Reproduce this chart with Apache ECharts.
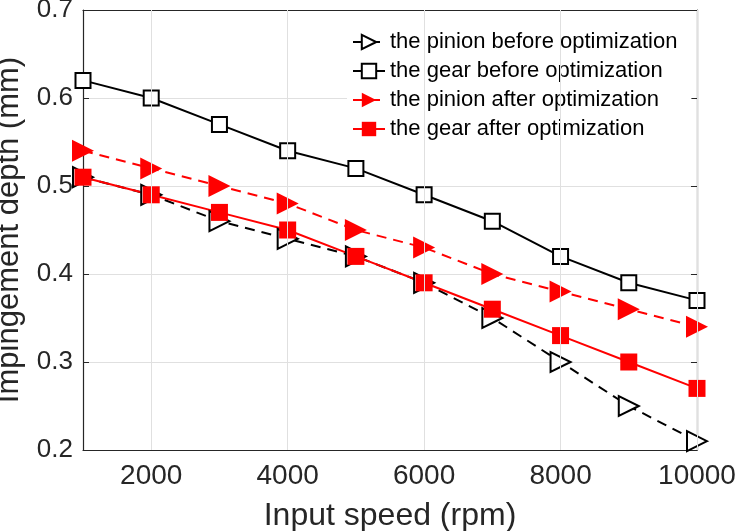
<!DOCTYPE html>
<html>
<head>
<meta charset="utf-8">
<script src="https://cdn.jsdelivr.net/npm/echarts@6/dist/echarts.min.js"></script>
<style>
  html, body { margin: 0; padding: 0; background: #fff; }
  #chart { width: 737px; height: 531px; }
</style>
</head>
<body>
<div id="chart"></div>
<script>
  const speeds = [1000, 2000, 3000, 4000, 5000, 6000, 7000, 8000, 9000, 10000];
  const pinionBefore = [0.51, 0.49, 0.46, 0.44, 0.42, 0.39, 0.35, 0.30, 0.25, 0.21];
  const gearBefore = [0.62, 0.60, 0.57, 0.54, 0.52, 0.49, 0.46, 0.42, 0.39, 0.37];
  const pinionAfter = [0.54, 0.52, 0.50, 0.48, 0.45, 0.43, 0.40, 0.38, 0.36, 0.34];
  const gearAfter = [0.51, 0.49, 0.47, 0.45, 0.42, 0.39, 0.36, 0.33, 0.30, 0.27];
  const xTicks = [2000, 4000, 6000, 8000, 10000];

  const font = 'Liberation Sans, Arial, sans-serif';
  const axisColor = '#262626';
  const gridColor = '#e0e0e0';
  const pairs = arr => arr.map((v, i) => [speeds[i], v]);

  const chart = echarts.init(document.getElementById('chart'));

  const baseX = {
    type: 'value',
    min: 1000,
    max: 10000,
    axisLine: {show: true, lineStyle: {color: axisColor, width: 1.2}},
    axisTick: {show: true, inside: true, length: 6, customValues: xTicks, lineStyle: {color: axisColor}},
    axisLabel: {show: true, customValues: xTicks, color: axisColor, fontSize: 28, fontFamily: font,
      margin: 12, formatter: v => String(v)},
    splitLine: {show: false}
  };
  const baseY = {
    type: 'value',
    min: 0.2,
    max: 0.7,
    interval: 0.1,
    axisLine: {show: true, lineStyle: {color: axisColor, width: 1.2}},
    axisTick: {show: true, inside: true, length: 6, lineStyle: {color: axisColor}},
    axisLabel: {show: true, color: axisColor, fontSize: 26, fontFamily: font, margin: 10,
      formatter: v => v.toFixed(1)},
    splitLine: {show: true, lineStyle: {color: gridColor, width: 1}}
  };

  const mk = (name, data, color, dashed, symbol, size, hollow) => ({
    name,
    type: 'line',
    data: pairs(data),
    clip: false,
    z: 3,
    symbol,
    symbolSize: size,
    symbolRotate: symbol === 'triangle' ? -90 : 0,
    showAllSymbol: true,
    lineStyle: {color, width: 2, type: dashed ? [10, 7] : 'solid'},
    itemStyle: hollow
      ? {color: '#fff', borderColor: color, borderWidth: 2}
      : {color, borderColor: color, borderWidth: 0},
    emphasis: {disabled: true}
  });

  chart.setOption({
    animation: false,
    backgroundColor: '#fff',
    grid: {left: 83, right: 40, top: 10, bottom: 81, containLabel: false, outerBoundsMode: 'none'},
    legend: {
      orient: 'vertical',
      left: 347,
      top: 23,
      itemWidth: 32,
      itemHeight: 18,
      itemGap: 7,
      backgroundColor: '#fff',
      padding: [8, 14, 8, 5],
      textStyle: {color: '#000', fontSize: 22, fontFamily: font},
      data: ['the pinion before optimization', 'the gear before optimization',
        'the pinion after optimization', 'the gear after optimization']
    },
    xAxis: [
      Object.assign({}, baseX, {
        name: 'Input speed (rpm)',
        nameLocation: 'middle',
        nameGap: 50,
        nameTextStyle: {color: axisColor, fontSize: 32, fontFamily: font}
      }),
      Object.assign({}, baseX, {position: 'top', axisLabel: {show: false}})
    ],
    yAxis: [
      Object.assign({}, baseY, {
        name: 'Impingement depth (mm)',
        nameLocation: 'middle',
        nameGap: 58,
        nameTextStyle: {color: axisColor, fontSize: 31, fontFamily: font}
      }),
      Object.assign({}, baseY, {position: 'right', axisLabel: {show: false}, splitLine: {show: false}})
    ],
    series: [
      {
        name: 'grid',
        type: 'line',
        data: [],
        z: 1,
        silent: true,
        markLine: {
          silent: true,
          symbol: 'none',
          label: {show: false},
          lineStyle: {color: gridColor, width: 1, type: 'solid'},
          data: xTicks.map(v => ({xAxis: v}))
        }
      },
      mk('the pinion before optimization', pinionBefore, '#000', true, 'triangle', 20, true),
      mk('the gear before optimization', gearBefore, '#000', false, 'rect', 15, true),
      mk('the pinion after optimization', pinionAfter, '#ff0000', true, 'triangle', 22, false),
      mk('the gear after optimization', gearAfter, '#ff0000', false, 'rect', 17, false)
    ]
  });
</script>
</body>
</html>
